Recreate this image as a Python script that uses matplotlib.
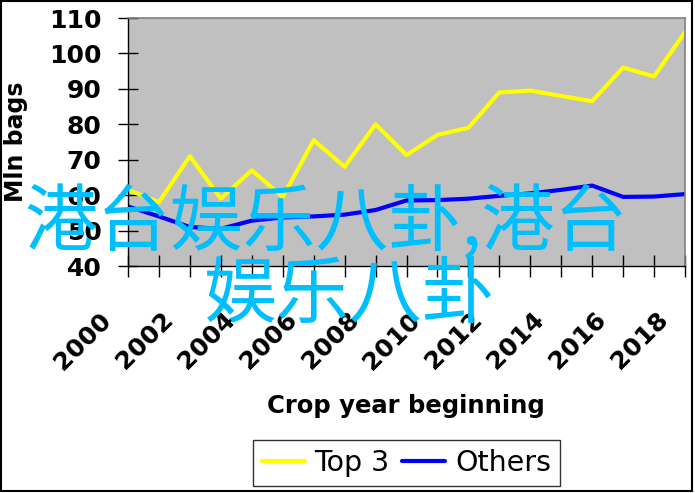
import matplotlib
matplotlib.use("Agg")
import matplotlib.pyplot as plt
from matplotlib.transforms import ScaledTranslation
from matplotlib.patches import Rectangle

years = list(range(2000, 2019))
top3 = [61.5, 58, 71, 59, 67, 59.5, 75.5, 68, 80, 71.3, 77, 79, 89, 89.5, 88, 86.5, 96, 93.5, 106]
others = [56.8, 54, 51, 50.5, 52.8, 53.7, 54, 54.5, 55.8, 58.5, 58.6, 59, 59.8, 60.5, 61.5, 62.7, 59.5, 59.6, 60.3]
tick_labels = [str(y) if y % 2 == 0 else "" for y in years]
watermark1 = "港台娱乐八卦,港台"
watermark2 = "娱乐八卦"

W, H = 695, 493
fig = plt.figure(figsize=(W / 100, H / 100), dpi=100)
ax = fig.add_axes([128 / W, 1 - 266 / H, 557 / W, 248 / H])
ax.set_facecolor("#c0c0c0")

ax.plot(years, top3, color="#ffff00", lw=3, label="Top 3", solid_capstyle="round")
ax.plot(years, others, color="#0000ff", lw=3, label="Others", solid_capstyle="round")

ax.set_xlim(2000, 2018)
ax.set_ylim(40, 110)
ax.set_yticks(range(40, 111, 10))
ax.set_xticks(years)
ax.set_xticklabels(tick_labels, rotation=45, ha="right", va="top",
                   fontsize=18, fontweight="bold")
for lab in ax.get_yticklabels():
    lab.set_fontsize(18)
    lab.set_fontweight("bold")

ax.tick_params(axis="x", direction="inout", length=16, width=1, pad=22)
ax.tick_params(axis="y", direction="inout", length=14, width=1, pad=12)
off = ScaledTranslation(-12 / 100, 0, fig.dpi_scale_trans)
for lab in ax.get_xticklabels():
    lab.set_transform(lab.get_transform() + off)

for s in ["left", "bottom"]:
    ax.spines[s].set_color("black")
    ax.spines[s].set_linewidth(1)
for s in ["top", "right"]:
    ax.spines[s].set_color("#808080")
    ax.spines[s].set_linewidth(1.2)

fig.text(16 / W, 1 - 142 / H, "Mln bags", rotation=90, ha="center", va="center",
         fontsize=17, fontweight="bold")
fig.text(406 / W, 1 - 406 / H, "Crop year beginning", ha="center", va="center",
         fontsize=17.5, fontweight="bold")

leg = fig.legend(loc="center", bbox_to_anchor=(406.5 / W, 1 - 463 / H), ncol=2,
                 fontsize=20.5, frameon=True, fancybox=False, edgecolor="black",
                 handlelength=1.5, handletextpad=0.35, columnspacing=0.45,
                 borderpad=0.3, borderaxespad=0)
leg.get_frame().set_linewidth(1)

cjk = ["Noto Sans CJK SC", "DejaVu Sans"]
fig.text(24 / W, 1 - 245 / H, watermark1, family=cjk, fontsize=52.5,
         color="#00bfff", ha="left", va="baseline")
fig.text(203 / W, 1 - 317 / H, watermark2, family=cjk, fontsize=52.5,
         color="#00bfff", ha="left", va="baseline")

fig.patches.append(Rectangle((1 / W, 1 - 491 / H), 691 / W, 490 / H,
                             transform=fig.transFigure, fill=False,
                             edgecolor="black", lw=1.5))

fig.savefig("out.png", dpi=100)
